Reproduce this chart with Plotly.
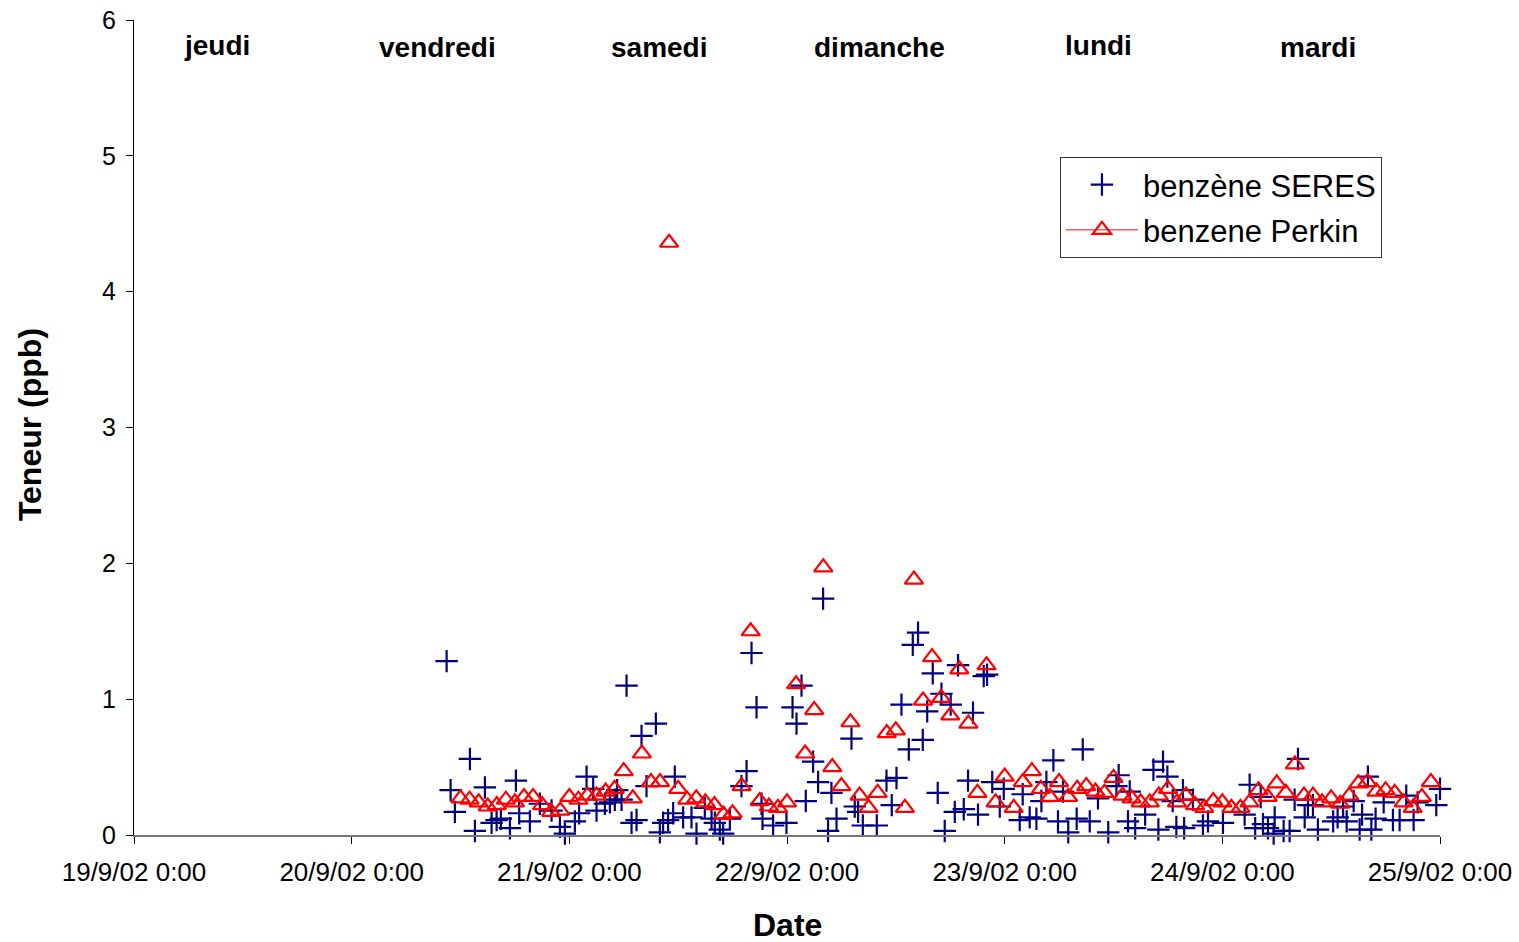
import pandas as pd
import plotly.graph_objects as go

# Origin of the time axis; all sample times are hours after this instant
t0 = pd.Timestamp("2002-09-19 00:00")

# Perkin analyser: hourly samples starting 20/9/02 12:00
perkin_first_hour = 36
perkin_values = [
    0.27, 0.26, 0.24, 0.21, 0.22, 0.26, 0.24, 0.28, 0.28, 0.22, 0.17, 0.18,
    0.28, 0.26, 0.29, 0.29, 0.32, 0.34, 0.47, 0.27, 0.60, 0.39, 0.39, 4.36,
    0.34, 0.26, 0.27, 0.24, 0.22, 0.15, 0.16, 0.36, 1.50, 0.25, 0.21, 0.20,
    0.24, 1.11, 0.60, 0.92, 1.97, 0.50, 0.36, 0.83, 0.29, 0.20, 0.31, 0.75,
    0.77, 0.20, 1.88, 0.99, 1.31, 1.01, 0.88, 1.22, 0.82, 0.31, 1.25, 0.24,
    0.43, 0.20, 0.39, 0.47, 0.34, 0.28, 0.39, 0.28, 0.34, 0.36, 0.32, 0.31,
    0.42, 0.29, 0.27, 0.24, 0.24, 0.29, 0.34, 0.24, 0.29, 0.22, 0.20, 0.25,
    0.24, 0.20, 0.20, 0.24, 0.33, 0.28, 0.38, 0.31, 0.52, 0.29, 0.29, 0.24,
    0.27, 0.23, 0.29, 0.38, 0.39, 0.32, 0.33, 0.31, 0.24, 0.20, 0.28, 0.39,
]
perkin_hours = [perkin_first_hour + i for i in range(len(perkin_values))]

# SERES analyser: sample times (hours after t0) and benzene content (ppb)
seres_hours = [
    34.47, 34.91, 35.38, 37.04, 37.59, 38.69, 39.43, 39.98, 40.45, 41.45,
    42.11, 42.47, 43.65, 44.75, 46.04, 46.96, 47.51, 48.61, 49.08, 49.90,
    50.63, 51.00, 51.92, 52.47, 53.02, 53.27, 53.76, 54.31, 54.86, 55.41,
    55.96, 56.51, 57.54, 57.98, 58.34, 58.89, 59.45, 59.63, 60.55, 61.47,
    62.02, 62.94, 63.68, 64.04, 64.59, 64.96, 65.70, 66.98, 67.54, 68.09,
    68.64, 69.19, 69.30, 70.47, 71.94, 72.61, 73.05, 73.60, 74.07, 74.88,
    75.43, 75.98, 76.53, 76.90, 77.46, 79.11, 79.47, 79.84, 80.36, 81.90,
    82.97, 83.55, 84.07, 84.62, 85.43, 85.87, 86.45, 86.97, 87.46, 88.07,
    88.62, 89.03, 89.39, 90.05, 90.50, 90.86, 91.49, 91.96, 92.51, 93.06,
    93.69, 94.06, 94.63, 95.46, 95.90, 97.66, 97.99, 98.76, 99.50, 100.05,
    100.60, 101.37, 101.88, 102.43, 103.01, 103.94, 104.61, 105.38, 106.29, 107.42,
    108.32, 108.57, 109.60, 109.79, 110.39, 111.49, 112.40, 112.95, 113.46, 113.94,
    114.53, 114.93, 115.66, 115.79, 116.76, 117.86, 118.42, 120.07, 122.46, 123.01,
    123.62, 124.23, 124.48, 125.03, 125.66, 125.77, 126.76, 127.42, 127.97, 128.34,
    129.08, 129.44, 129.99, 130.54, 132.22, 132.71, 133.32, 133.71, 134.48, 135.14,
    135.41, 136.05, 136.43, 136.90, 137.79, 138.81, 139.55, 140.28, 141.09, 141.53,
    143.59, 144.00,
]
seres_values = [
    1.28, 0.33, 0.17, 0.56, 0.03, 0.35, 0.09, 0.11, 0.12, 0.05,
    0.40, 0.16, 0.10, 0.23, 0.18, 0.06, 0.01, 0.10, 0.16, 0.43,
    0.34, 0.18, 0.23, 0.24, 0.26, 0.33, 0.26, 1.10, 0.09, 0.11,
    0.73, 0.36, 0.82, 0.02, 0.09, 0.11, 0.16, 0.43, 0.13, 0.13,
    0.01, 0.20, 0.12, 0.09, 0.04, 0.01, 0.12, 0.36, 0.47, 1.34,
    0.94, 0.23, 0.12, 0.07, 0.09, 0.94, 0.82, 1.10, 0.25, 0.54,
    0.39, 1.74, 0.03, 0.31, 0.12, 0.71, 0.21, 0.17, 0.07, 0.07,
    0.40, 0.22, 0.42, 0.96, 0.63, 1.40, 1.49, 0.70, 0.91, 1.19,
    0.31, 1.04, 0.03, 0.96, 0.17, 1.25, 0.19, 0.40, 0.90, 0.15,
    1.17, 1.18, 0.39, 0.21, 0.34, 0.11, 0.30, 0.13, 0.12, 0.25,
    0.39, 0.55, 0.10, 0.32, 0.02, 0.12, 0.63, 0.10, 0.27, 0.02,
    0.36, 0.44, 0.10, 0.32, 0.05, 0.15, 0.48, 0.04, 0.54, 0.43,
    0.25, 0.06, 0.33, 0.05, 0.26, 0.07, 0.10, 0.09, 0.15, 0.37,
    0.05, 0.28, 0.08, 0.05, 0.01, 0.13, 0.03, 0.03, 0.26, 0.56,
    0.13, 0.22, 0.22, 0.04, 0.10, 0.13, 0.21, 0.10, 0.25, 0.04,
    0.15, 0.43, 0.04, 0.12, 0.24, 0.11, 0.11, 0.29, 0.11, 0.24,
    0.22, 0.34,
]

# Axis ticks (one per day, midnight)
tick_dates = pd.date_range("2002-09-19", "2002-09-25", freq="D")
tick_labels = ["19/9/02 0:00", "20/9/02 0:00", "21/9/02 0:00", "22/9/02 0:00",
               "23/9/02 0:00", "24/9/02 0:00", "25/9/02 0:00"]

# Weekday captions along the top of the plot (centre time in hours after t0)
day_names = ["jeudi", "vendredi", "samedi", "dimanche", "lundi", "mardi"]
day_label_hours = [9.15, 33.5, 57.9, 82.2, 106.4, 130.5]
day_label_levels = [5.815, 5.80, 5.80, 5.80, 5.815, 5.80]

to_time = lambda hours: [t0 + pd.Timedelta(hours=h) for h in hours]

FONT = "Liberation Sans, Arial, sans-serif"
NAVY = "#000080"
RED = "#FF0000"

fig = go.Figure()

fig.add_trace(go.Scatter(
    x=to_time(seres_hours), y=seres_values,
    mode="markers", name="benzène SERES", legendgroup="seres",
    marker=dict(symbol="cross-thin-open", size=16, color=NAVY,
                line=dict(color=NAVY, width=2.2)),
    cliponaxis=False,
))

fig.add_trace(go.Scatter(
    x=to_time(perkin_hours), y=perkin_values,
    mode="markers", name="benzene Perkin", showlegend=False,
    legendgroup="perkin",
    marker=dict(symbol="triangle-up-open", size=16, color=RED,
                line=dict(color=RED, width=2.2)),
    cliponaxis=False,
))

# Legend entry for the Perkin series (line + marker swatch)
fig.add_trace(go.Scatter(
    x=[None], y=[None], mode="lines+markers", name="benzene Perkin",
    legendgroup="perkin",
    line=dict(color=RED, width=1),
    marker=dict(symbol="triangle-up-open", size=16, color=RED,
                line=dict(color=RED, width=2.2)),
))

for name, hour, level in zip(day_names, day_label_hours, day_label_levels):
    fig.add_annotation(
        x=t0 + pd.Timedelta(hours=hour), y=level,
        xref="x", yref="y", text=f"<b>{name}</b>", showarrow=False,
        font=dict(family=FONT, size=28, color="black"),
        xanchor="center", yanchor="middle",
    )

fig.add_annotation(
    x=0.5, y=-0.110, xref="paper", yref="paper", text="<b>Date</b>",
    showarrow=False, font=dict(family=FONT, size=32, color="black"),
    xanchor="center", yanchor="middle",
)
fig.add_annotation(
    x=-0.0796, y=0.503, xref="paper", yref="paper", text="<b>Teneur (ppb)</b>",
    showarrow=False, textangle=-90, font=dict(family=FONT, size=32, color="black"),
    xanchor="center", yanchor="middle",
)

fig.update_layout(
    width=1519, height=942,
    margin=dict(l=134, r=79, t=20, b=107),
    paper_bgcolor="white", plot_bgcolor="white",
    font=dict(family=FONT, color="black"),
    showlegend=True,
    legend=dict(
        x=0.709, y=0.832, xanchor="left", yanchor="top",
        bgcolor="white", bordercolor="#333333", borderwidth=1,
        font=dict(family=FONT, size=31, color="black"),
        itemwidth=72, traceorder="grouped", tracegroupgap=2,
    ),
    xaxis=dict(
        type="date", automargin=False,
        range=[tick_dates[0], tick_dates[-1]],
        tickmode="array", tickvals=list(tick_dates), ticktext=tick_labels,
        ticks="outside", ticklen=7, tickcolor="black", tickwidth=1,
        showline=True, linecolor="#777777", linewidth=1.5,
        showgrid=False, zeroline=False,
        tickfont=dict(family=FONT, size=26, color="black"),
        ticklabelstandoff=6,
    ),
    yaxis=dict(
        range=[0, 6], automargin=False, tickmode="array",
        tickvals=[0, 1, 2, 3, 4, 5, 6],
        ticks="outside", ticklen=7, tickcolor="black", tickwidth=1,
        showline=True, linecolor="black", linewidth=1,
        showgrid=False, zeroline=False,
        tickfont=dict(family=FONT, size=25, color="black"),
        ticklabelstandoff=5,
    ),
)

fig.write_html("out.html")
